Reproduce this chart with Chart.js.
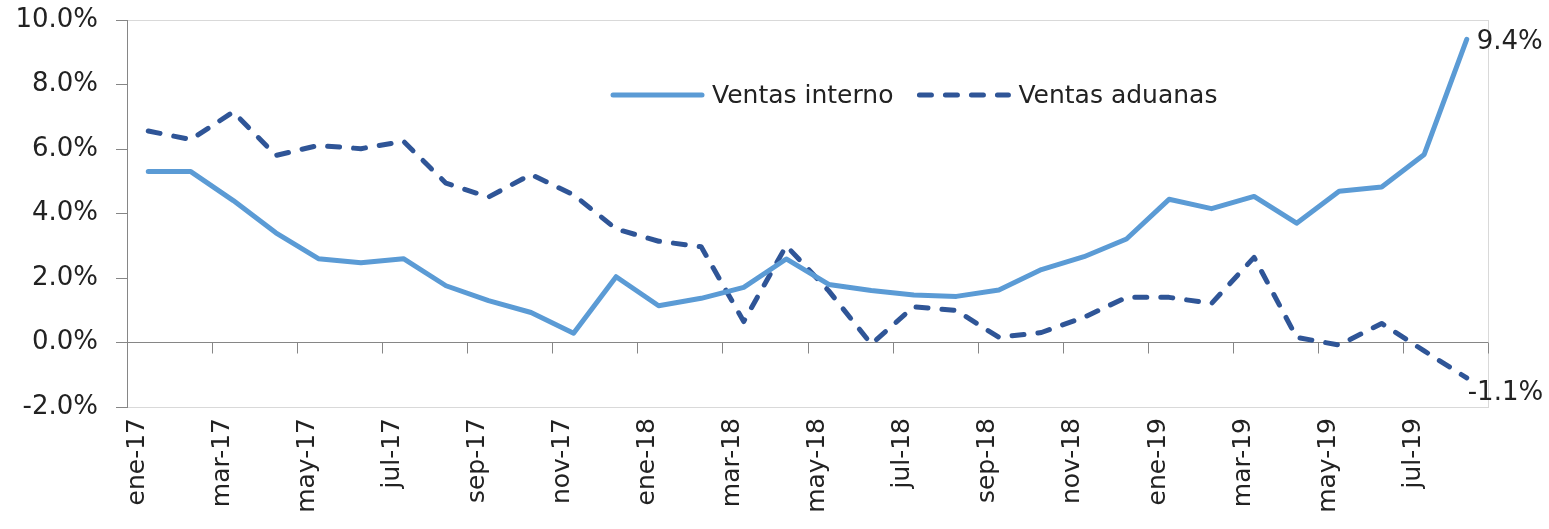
<!DOCTYPE html>
<html>
<head>
<meta charset="utf-8">
<script src="https://cdn.jsdelivr.net/npm/chart.js@4"></script>
<style>
  html, body { margin: 0; padding: 0; background: #fff; }
</style>
</head>
<body>
<canvas id="ventasChart" width="1549" height="529"></canvas>
<script>
// Datos (variación %)
const meses = [
    'ene-17', 'feb-17', 'mar-17', 'abr-17', 'may-17', 'jun-17', 'jul-17', 'ago-17', 'sep-17', 'oct-17', 'nov-17', 'dic-17',
    'ene-18', 'feb-18', 'mar-18', 'abr-18', 'may-18', 'jun-18', 'jul-18', 'ago-18', 'sep-18', 'oct-18', 'nov-18', 'dic-18',
    'ene-19', 'feb-19', 'mar-19', 'abr-19', 'may-19', 'jun-19', 'jul-19', 'ago-19'
];
const ventasInterno = [
    5.3, 5.3, 4.4, 3.4, 2.6, 2.47, 2.6, 1.76, 1.3, 0.93, 0.29, 2.04,
    1.14, 1.37, 1.71, 2.59, 1.8, 1.61, 1.47, 1.43, 1.63, 2.26, 2.66, 3.21,
    4.44, 4.15, 4.53, 3.7, 4.69, 4.82, 5.83, 9.4
];
const ventasAduanas = [
    6.56, 6.29, 7.15, 5.8, 6.11, 6.01, 6.24, 4.94, 4.51, 5.21, 4.58, 3.52,
    3.14, 2.97, 0.65, 3.0, 1.6, -0.05, 1.11, 0.99, 0.16, 0.31, 0.78, 1.4,
    1.4, 1.21, 2.64, 0.16, -0.08, 0.59, -0.26, -1.1
];
const yTicks = [-2, 0, 2, 4, 6, 8, 10];

const fuente = '"DejaVu Sans", sans-serif';
const colorTexto = '#222222';
const colorEje = '#868686';
const colorBorde = '#d9d9d9';

// Leyenda dentro del area del grafico
const leyendaInterna = {
    id: 'leyendaInterna',
    afterDatasetsDraw(chart) {
        const ctx = chart.ctx;
        const area = chart.chartArea;
        let x = area.left + 486;
        const y = area.top + 75;
        ctx.save();
        ctx.font = '25px ' + fuente;
        ctx.textBaseline = 'middle';
        ctx.textAlign = 'left';
        chart.data.datasets.forEach(ds => {
            ctx.strokeStyle = ds.borderColor;
            ctx.lineWidth = ds.borderWidth;
            ctx.lineCap = 'round';
            ctx.setLineDash(ds.borderDash || []);
            ctx.beginPath();
            ctx.moveTo(x, y);
            ctx.lineTo(x + 89, y);
            ctx.stroke();
            ctx.setLineDash([]);
            ctx.fillStyle = colorTexto;
            ctx.fillText(ds.label, x + 99, y + 1);
            x += 99 + ctx.measureText(ds.label).width + 26;
        });
        ctx.restore();
    }
};

// Etiquetas del ultimo dato y marcas del eje en 0
const extras = {
    id: 'extras',
    beforeDatasetsDraw(chart) {
        const ctx = chart.ctx;
        const area = chart.chartArea;
        const xs = chart.scales.x;
        const y0 = chart.scales.y.getPixelForValue(0);
        const paso = xs.getPixelForValue(1) - xs.getPixelForValue(0);
        ctx.save();
        ctx.strokeStyle = colorBorde;
        ctx.lineWidth = 1;
        ctx.beginPath();
        ctx.moveTo(area.right + 0.5, area.top);
        ctx.lineTo(area.right + 0.5, area.bottom);
        ctx.stroke();
        ctx.strokeStyle = colorEje;
        ctx.beginPath();
        for (let k = 2; k <= meses.length; k += 2) {
            const px = Math.round(xs.getPixelForValue(0) - paso / 2 + k * paso) + 0.5;
            ctx.moveTo(px, y0);
            ctx.lineTo(px, y0 + 11);
        }
        ctx.stroke();
        ctx.restore();
    },
    afterDatasetsDraw(chart) {
        const ctx = chart.ctx;
        ctx.save();
        ctx.font = '26px ' + fuente;
        ctx.fillStyle = colorTexto;
        ctx.textAlign = 'left';
        ctx.textBaseline = 'middle';
        chart.data.datasets.forEach((ds, i) => {
            const meta = chart.getDatasetMeta(i);
            const ultimo = meta.data[meta.data.length - 1];
            const txt = ds.data[ds.data.length - 1].toFixed(1) + '%';
            if (i === 0) ctx.fillText(txt, ultimo.x + 10, ultimo.y + 3);
            else ctx.fillText(txt, ultimo.x + 1, ultimo.y + 15);
        });
        ctx.restore();
    }
};

const ctxVentas = document.getElementById('ventasChart').getContext('2d');
const ventasChart = new Chart(ctxVentas, {
    type: 'line',
    data: {
        labels: meses,
        datasets: [{
            label: 'Ventas interno',
            data: ventasInterno,
            borderColor: '#5b9bd5',
            borderWidth: 5,
            borderCapStyle: 'round',
            borderJoinStyle: 'round',
            pointRadius: 0,
            tension: 0
        }, {
            label: 'Ventas aduanas',
            data: ventasAduanas,
            borderColor: '#2f5597',
            borderWidth: 5,
            borderDash: [12, 14],
            borderCapStyle: 'round',
            borderJoinStyle: 'round',
            pointRadius: 0,
            tension: 0
        }]
    },
    options: {
        responsive: false,
        animation: false,
        layout: { padding: { left: 0, right: 61, top: 20, bottom: 0 } },
        plugins: {
            legend: { display: false },
            tooltip: { enabled: false }
        },
        scales: {
            x: {
                offset: true,
                grid: { display: false, drawTicks: false },
                border: { display: true, color: colorBorde, width: 1 },
                ticks: {
                    autoSkip: false,
                    minRotation: 90,
                    maxRotation: 90,
                    padding: 11,
                    labelOffset: -11,
                    color: colorTexto,
                    font: { family: fuente, size: 25 },
                    callback: (v, i) => (i % 2 === 0 ? meses[i] : '')
                },
                afterFit: (scale) => {
                    scale.height = 122;
                    scale.paddingTop = 0;
                    scale.paddingBottom = 0;
                }
            },
            y: {
                min: yTicks[0],
                max: yTicks[yTicks.length - 1],
                border: { display: true, color: colorEje, width: 1 },
                grid: {
                    color: (c) => {
                        const v = c.tick ? c.tick.value : null;
                        if (v === 0) return colorEje;
                        if (v === yTicks[yTicks.length - 1] || v === yTicks[0]) return colorBorde;
                        return 'rgba(0,0,0,0)';
                    },
                    tickColor: colorEje,
                    tickLength: 11
                },
                ticks: {
                    stepSize: 2,
                    padding: 18,
                    color: colorTexto,
                    font: { family: fuente, size: 26 },
                    callback: (v) => v.toFixed(1) + '%'
                },
                afterFit: (scale) => {
                    scale.width = 127;
                    scale.paddingTop = 0;
                    scale.paddingBottom = 0;
                }
            }
        }
    },
    plugins: [extras, leyendaInterna]
});
</script>
</body>
</html>
